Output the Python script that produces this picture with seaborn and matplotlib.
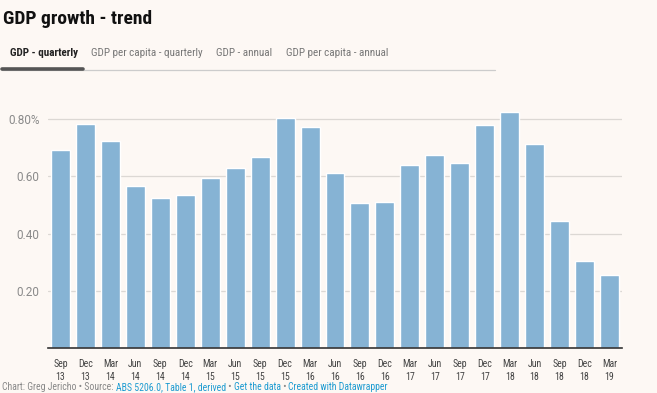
import matplotlib
matplotlib.use("Agg")
import matplotlib.pyplot as plt
import pandas as pd
import seaborn as sns

quarters = ["Sep", "Dec", "Mar", "Jun", "Sep", "Dec", "Mar", "Jun", "Sep", "Dec", "Mar", "Jun",
            "Sep", "Dec", "Mar", "Jun", "Sep", "Dec", "Mar", "Jun", "Sep", "Dec", "Mar"]
years = ["13", "13", "14", "14", "14", "14", "15", "15", "15", "15", "16", "16",
         "16", "16", "17", "17", "17", "17", "18", "18", "18", "18", "19"]
growth = [0.692, 0.783, 0.724, 0.567, 0.525, 0.535, 0.594, 0.629, 0.668, 0.804, 0.772, 0.612,
          0.507, 0.511, 0.640, 0.675, 0.647, 0.779, 0.825, 0.713, 0.444, 0.305, 0.256]
y_ticks = [0.2, 0.4, 0.6, 0.8]
y_tick_labels = ["0.20", "0.40", "0.60", "0.80%"]
tabs = ["GDP - quarterly", "GDP per capita - quarterly", "GDP - annual", "GDP per capita - annual"]

BG = "#fdf8f4"
BAR = "#86b3d4"
LINK = "#1d9bd1"
COND = ["Roboto Condensed", "Roboto", "DejaVu Sans"]

sns.set_theme(style="white")
plt.rcParams["font.family"] = COND

df = pd.DataFrame({"period": [f"{q}\n{y}" for q, y in zip(quarters, years)], "growth": growth})

fig = plt.figure(figsize=(6.57, 3.93), dpi=100, facecolor=BG)
W, H = 657, 393
ax = fig.add_axes([48 / W, (H - 348) / H, 574 / W, (348 - 102) / H])
ax.set_facecolor(BG)

sns.barplot(data=df, x="period", y="growth", color=BAR, saturation=1, width=0.76, ax=ax, zorder=2)

ax.set_ylim(0, 0.86)
ax.set_xlim(-0.5, 22.5)
ax.set_yticks(y_ticks)
ax.set_yticklabels(y_tick_labels, color="#8a8a8a", fontsize=8.5, family=["Roboto", "DejaVu Sans"])
ax.yaxis.grid(True, color="#dcd8d4", linewidth=0.9, zorder=0)
ax.set_axisbelow(True)
ax.tick_params(axis="y", length=0, pad=6)
ax.tick_params(axis="x", length=0, pad=8, labelsize=7.1, labelcolor="#444444")
for lab in ax.get_xticklabels():
    lab.set_linespacing(1.3)
ax.set_xlabel("")
ax.set_ylabel("")
for side in ["top", "right", "left"]:
    ax.spines[side].set_visible(False)
ax.spines["bottom"].set_color("#333333")
ax.spines["bottom"].set_linewidth(1.2)

# title and tabs
fig.text(3 / W, 1 - 19 / H, "GDP growth - trend", fontsize=14, fontweight="bold",
         color="#111111", va="center", ha="left")
tab_x = [10, 91, 216, 286]
for i, (t, x) in enumerate(zip(tabs, tab_x)):
    fig.text(x / W, 1 - 53 / H, t, fontsize=8, va="center", ha="left",
             color="#222222" if i == 0 else "#777777",
             fontweight="bold" if i == 0 else "normal")
fig.add_artist(plt.Line2D([2 / W, 495 / W], [1 - 69.5 / H] * 2, color="#cccccc", linewidth=0.9))
fig.add_artist(plt.Line2D([2 / W, 83 / W], [1 - 68.5 / H] * 2, color="#555555", linewidth=2.6))

# footer with coloured links
footer = [("Chart: Greg Jericho \u2022 Source: ", "#888888"), ("ABS 5206.0, Table 1, derived", LINK),
          (" \u2022 ", "#888888"), ("Get the data", LINK), (" \u2022 ", "#888888"),
          ("Created with Datawrapper", LINK)]
fig.canvas.draw()
renderer = fig.canvas.get_renderer()
x = 2
for txt, col in footer:
    t = fig.text(x / W, 1 - 390.5 / H, txt, fontsize=7.0, color=col, va="baseline", ha="left")
    x += t.get_window_extent(renderer).width

fig.savefig("out.png", dpi=100, facecolor=BG)
